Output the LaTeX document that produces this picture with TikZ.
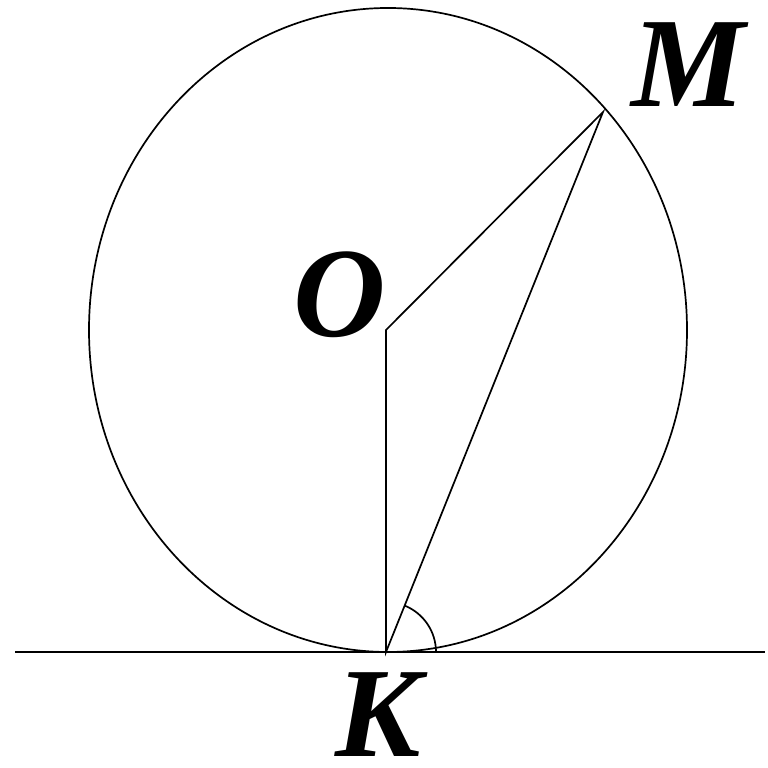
\documentclass[tikz,border=0pt]{standalone}
\usepackage{fontspec}
\setmainfont{Liberation Serif}
\begin{document}
\begin{tikzpicture}[x=1pt,y=1pt,
  thin line/.style={line width=1.7pt},
  lbl/.style={font=\fontsize{128}{128}\selectfont\bfseries\itshape, inner sep=0pt}]
\useasboundingbox (0,0) rectangle (768,768);
\coordinate (C) at (388,438);
\coordinate (O) at (386,438);
\coordinate (K) at (386,116);
\coordinate (M) at (603,656);
\coordinate (L) at (15,116);
\coordinate (R) at (765,116);
\coordinate (A) at (436,116);
\draw[thin line] (C) ellipse [x radius=299pt, y radius=322pt];
\draw[thin line] (L) -- (R);
\draw[thin line] (O) -- (K) -- (M) -- cycle;
\draw[thin line] (A) arc[start angle=0, end angle=68, radius=50pt];
\node[lbl] (Mlbl) at (688,703) {M};
\node[lbl] (Olbl) at (340,473) {O};
\node[lbl] (Klbl) at (378,53) {K};
\end{tikzpicture}
\end{document}
